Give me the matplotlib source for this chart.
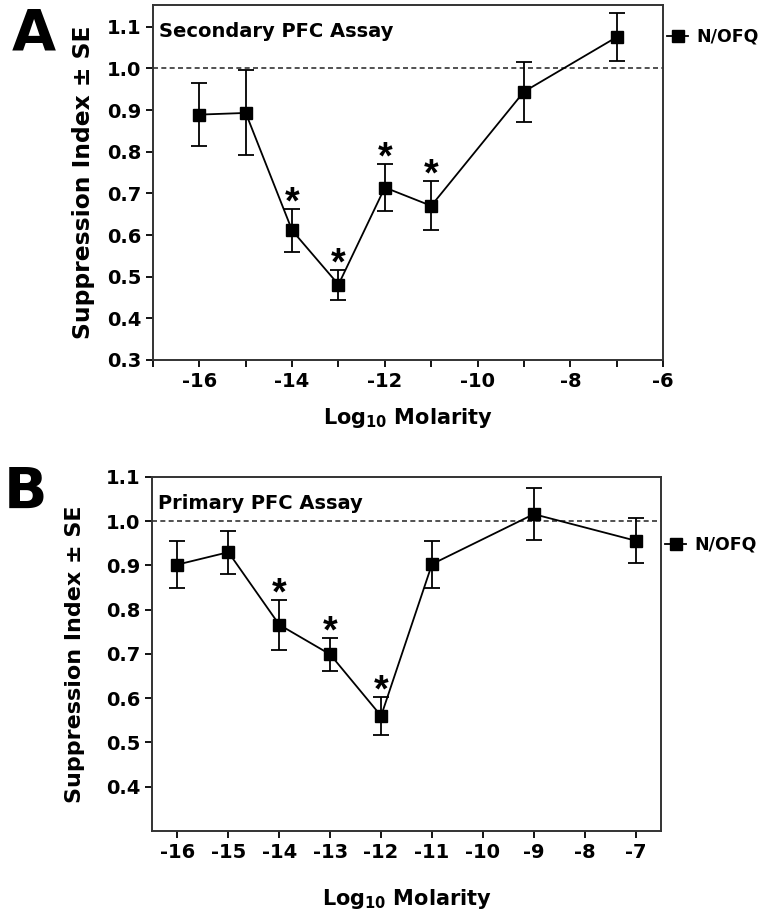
import matplotlib
matplotlib.use("Agg")
import matplotlib.pyplot as plt
from matplotlib.ticker import FormatStrFormatter, MultipleLocator

plt.rcParams['font.family'] = ['DejaVu Sans']
plt.rcParams['font.weight'] = 'bold'
plt.rcParams['axes.unicode_minus'] = False
plt.rcParams['mathtext.fontset'] = 'custom'
plt.rcParams['mathtext.rm'] = 'DejaVu Sans:bold'
plt.rcParams['mathtext.default'] = 'rm'

# panel A - secondary PFC assay
conc_a = [-16, -15, -14, -13, -12, -11, -9, -7]
si_a = [0.889, 0.893, 0.611, 0.481, 0.714, 0.670, 0.944, 1.075]
se_a = [0.075, 0.102, 0.051, 0.036, 0.056, 0.059, 0.072, 0.058]
sig_a = [False, False, True, True, True, True, False, False]

# panel B - primary PFC assay
conc_b = [-16, -15, -14, -13, -12, -11, -9, -7]
si_b = [0.902, 0.930, 0.766, 0.699, 0.560, 0.903, 1.016, 0.956]
se_b = [0.053, 0.049, 0.057, 0.037, 0.042, 0.053, 0.059, 0.051]
sig_b = [False, False, True, True, True, False, False, False]

fig = plt.figure(figsize=(7.59, 9.16), dpi=100)
axA = fig.add_axes([0.2016, 0.607, 0.672, 0.3875])
axB = fig.add_axes([0.2003, 0.0928, 0.6707, 0.3865])


def draw_panel(ax, x, y, e, sig, title, xlim, ylim, xticks, yticks, leg_y,
               ylab_size, ylab_pad, xlab_pad):
    ax.axhline(1.0, color='#333333', ls=(0, (3, 2)), lw=1.2, zorder=1)
    ax.errorbar(x, y, yerr=e, color='black', lw=1.3, marker='s', ms=9,
                capsize=6, capthick=1.3, elinewidth=1.3, zorder=3)
    ax.plot([], [], color='black', lw=1.3, marker='s', ms=9, label='N/OFQ')
    # significance stars above the error caps
    for xi, yi, ei, s in zip(x, y, e, sig):
        if s:
            ax.annotate('*', (xi, yi + ei), xytext=(0, 4), textcoords='offset points',
                        ha='center', va='center', fontsize=27, fontweight='bold',
                        family='Liberation Sans')
    ax.set_xlim(*xlim)
    ax.set_ylim(*ylim)
    ax.set_xticks(xticks)
    ax.set_yticks(yticks)
    ax.yaxis.set_major_formatter(FormatStrFormatter('%.1f'))
    ax.tick_params(labelsize=14, width=1.3, length=5, direction='out')
    ax.tick_params(which='minor', width=1.3, length=5)
    for lab in ax.get_xticklabels() + ax.get_yticklabels():
        lab.set_fontweight('bold')
    for sp in ax.spines.values():
        sp.set_linewidth(1.4)
        sp.set_color('#333333')
    ax.text(0.012, 0.925, title, transform=ax.transAxes, fontsize=14,
            fontweight='bold', va='center', ha='left')
    ax.set_ylabel('Suppression Index ± SE', fontsize=ylab_size, fontweight='bold',
                  labelpad=ylab_pad)
    ax.set_xlabel('Log$_{10}$ Molarity', fontsize=15, fontweight='bold', labelpad=xlab_pad)
    ax.legend(loc='center left', bbox_to_anchor=(0.995, leg_y), frameon=False,
              handlelength=1.2, handletextpad=0.45, fontsize=12.5, borderaxespad=0)


draw_panel(axA, conc_a, si_a, se_a, sig_a, 'Secondary PFC Assay',
           (-17, -6), (0.3, 1.152), [-16, -14, -12, -10, -8, -6],
           [0.3, 0.4, 0.5, 0.6, 0.7, 0.8, 0.9, 1.0, 1.1], 0.91, 16.8, 8, 11)
axA.xaxis.set_minor_locator(MultipleLocator(1))
draw_panel(axB, conc_b, si_b, se_b, sig_b, 'Primary PFC Assay',
           (-16.5, -6.5), (0.3, 1.1), list(range(-16, -6)),
           [0.4, 0.5, 0.6, 0.7, 0.8, 0.9, 1.0, 1.1], 0.808, 16, 15, 18)

fig.text(0.045, 0.962, 'A', fontsize=41, fontweight='heavy', ha='center', va='center')
fig.text(0.033, 0.461, 'B', fontsize=41, fontweight='heavy', ha='center', va='center')

fig.savefig('out.png', dpi=100)
